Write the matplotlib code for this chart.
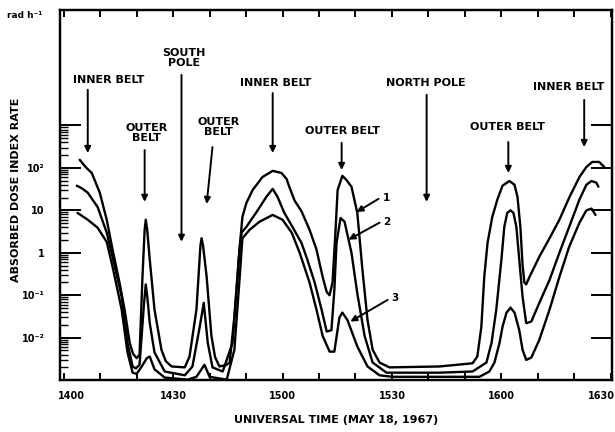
import matplotlib
matplotlib.use("Agg")
import matplotlib.pyplot as plt
import matplotlib.ticker as ticker
import matplotlib.transforms as mtransforms
import numpy as np

# time in minutes after 14:00 UT, dose index rate in rad/h
t1 = [4.4, 6.0, 7.7, 9.9, 11.8, 13.4, 15.3, 16.7, 18.1, 19.0, 20.0, 20.8, 21.6, 22.2, 22.5,
      22.9, 23.6, 24.9, 26.8, 28.0, 29.6, 33.2, 34.5, 36.4, 37.5, 37.8, 38.2, 39.2, 40.5,
      41.5, 42.7, 44.7, 45.5, 46.8, 48.2, 49.0, 50.1, 51.8, 54.5, 57.3, 59.7, 61.1, 61.9,
      63.3, 65.2, 67.4, 69.3, 71.0, 72.1, 72.9, 73.7, 74.5, 75.1, 76.4, 77.5, 78.9, 80.5,
      81.9, 83.3, 84.7, 86.6, 89.3, 103.0, 112.1, 113.4, 114.5, 115.3, 116.2, 117.5, 118.9,
      120.3, 122.2, 123.6, 124.4, 125.2, 125.8, 126.3, 126.8, 127.7, 130.4, 133.2, 135.9,
      138.6, 141.4, 143.3, 144.9, 146.8, 148.2]
dose1 = [155, 105, 76, 26, 6.0, 1.2, 0.20, 0.046, 0.0076, 0.0042, 0.0033, 0.0040, 0.27, 3.5, 6.0,
         3.5, 0.69, 0.046, 0.0052, 0.0028, 0.0021, 0.0020, 0.0036, 0.046, 1.5, 2.2, 1.5, 0.27, 0.011,
         0.0035, 0.0021, 0.0023, 0.0026, 0.031, 1.2, 7.0, 15, 30, 61, 85, 76, 55, 35,
         17, 9.5, 3.5, 1.2, 0.27, 0.12, 0.10, 0.20, 3.0, 30, 65, 52, 36, 8.7,
         0.40, 0.026, 0.0052, 0.0026, 0.0020, 0.0021, 0.0025, 0.0036, 0.018, 0.27, 1.7, 7.0, 18,
         38, 49, 40, 21, 4.1, 0.52, 0.20, 0.18, 0.27, 0.81, 2.2, 6.0,
         20, 61, 105, 138, 138, 105]

t2 = [3.6, 5.0, 6.6, 9.3, 11.8, 13.4, 15.9, 17.5, 18.9, 19.8, 20.8, 22.0, 22.5, 23.0, 23.6,
      24.9, 27.7, 33.2, 35.3, 37.3, 38.4, 39.5, 40.8, 43.6, 46.3, 48.2, 48.8, 50.1, 52.9,
      55.6, 57.3, 58.6, 60.5, 62.7, 65.2, 66.8, 68.8, 70.7, 72.1, 73.4, 74.2, 74.8, 75.9,
      77.0, 78.9, 80.5, 82.5, 84.7, 88.5, 103.0, 112.1, 115.9, 117.3, 118.6, 120.0, 120.8,
      121.6, 122.5, 123.3, 124.1, 124.9, 125.8, 126.8, 128.2, 130.4, 133.2, 135.9, 138.6,
      141.4, 143.3, 144.7, 146.0, 146.6]
dose2 = [38, 33, 26, 12, 3.0, 0.81, 0.092, 0.0076, 0.0021, 0.0019, 0.0023, 0.06, 0.18, 0.08, 0.022,
         0.0045, 0.0016, 0.0013, 0.0021, 0.018, 0.066, 0.0076, 0.0020, 0.0016, 0.0076, 1.2, 3.0, 4.1, 9.2,
         21, 32, 21, 8.7, 4.1, 1.7, 0.69, 0.20, 0.046, 0.014, 0.015, 0.13, 1.7, 6.6,
         5.4, 1.0, 0.11, 0.011, 0.0026, 0.0015, 0.0015, 0.0016, 0.0026, 0.0076, 0.046, 0.69, 4.1,
         8.7, 10, 8.7, 4.1, 0.69, 0.092, 0.022, 0.024, 0.066, 0.23, 1.0, 4.1,
         18, 40, 49, 45, 36]

t3 = [3.8, 6.6, 9.3, 11.8, 13.4, 15.9, 17.5, 18.9, 20.0, 21.4, 22.8, 23.6, 24.9, 27.7, 34.0,
      36.4, 38.6, 40.0, 44.7, 46.8, 48.2, 49.0, 51.0, 53.7, 57.3, 60.0, 62.5, 64.7, 67.4,
      69.3, 71.0, 72.9, 74.2, 75.6, 76.4, 77.8, 80.5, 83.3, 86.6, 90.1, 103.0, 114.0, 116.7,
      118.1, 119.5, 120.3, 121.4, 122.5, 123.6, 124.9, 125.8, 126.8, 128.2, 130.4, 133.2,
      135.9, 138.6, 141.4, 143.3, 144.7, 145.8]
dose3 = [8.7, 6.0, 3.9, 1.8, 0.47, 0.046, 0.0045, 0.0015, 0.0014, 0.0021, 0.0033, 0.0036, 0.0018, 0.00115, 0.00103,
         0.0012, 0.0023, 0.0012, 0.00103, 0.0052, 0.23, 2.2, 3.5, 5.4, 7.8, 6.0, 3.0, 1.0, 0.20,
         0.046, 0.011, 0.0047, 0.0047, 0.030, 0.039, 0.026, 0.0062, 0.0021, 0.0013, 0.0012, 0.0012, 0.0012, 0.0016,
         0.0026, 0.0076, 0.018, 0.039, 0.051, 0.039, 0.015, 0.0052, 0.0030, 0.0034, 0.0089, 0.046,
         0.27, 1.4, 5.1, 10, 11, 7.8]

tick_labels = ['1400', '1430', '1500', '1530', '1600', '1630']
decade_labels = ['', '10\u207b\u00b2', '10\u207b\u00b9', '1', '10', '10\u00b2', '']

BOLD = dict(fontweight='bold', color='black')

fig = plt.figure(figsize=(6.15, 4.32), dpi=100)
ax = fig.add_axes([0.0976, 0.120, 0.8974, 0.857])

for t, d in [(t1, dose1), (t2, dose2), (t3, dose3)]:
    ax.plot(t, d, color='black', lw=1.7, solid_joinstyle='round', solid_capstyle='round')

ax.set_yscale('log')
ax.set_xlim(-1, 150.3)
ax.set_ylim(1e-3, 10 ** 5.72)

# x axis: ticks every 10 min, labels every 30 min
ax.xaxis.set_major_locator(ticker.FixedLocator(np.arange(0, 151, 30)))
ax.xaxis.set_major_formatter(ticker.FixedFormatter(tick_labels))
ax.xaxis.set_minor_locator(ticker.FixedLocator(np.arange(10, 150, 10)))
ax.tick_params(axis='x', which='both', direction='in', top=True, length=5, width=1.4, pad=8,
               labelsize=7)

# left axis: decades with minor ticks up to 10^3
decades = [10.0 ** e for e in range(-3, 4)]
ax.yaxis.set_major_locator(ticker.FixedLocator(decades))
ax.yaxis.set_major_formatter(ticker.FixedFormatter(decade_labels))
ax.yaxis.set_minor_locator(ticker.FixedLocator([k * 10.0 ** e for e in range(-3, 3) for k in range(2, 10)]))
ax.yaxis.set_minor_formatter(ticker.NullFormatter())
ax.tick_params(axis='y', which='major', direction='in', length=15, width=1.4, pad=11, labelsize=7)
ax.tick_params(axis='y', which='minor', direction='in', length=6, width=1.0)

for lab in ax.get_xticklabels() + ax.get_yticklabels():
    lab.set_fontweight('bold')

# nudge the end labels inward
xlabs = ax.xaxis.get_majorticklabels()
xlabs[0].set_transform(xlabs[0].get_transform() + mtransforms.ScaledTranslation(0.08, 0, fig.dpi_scale_trans))
xlabs[-1].set_transform(xlabs[-1].get_transform() + mtransforms.ScaledTranslation(-0.09, 0, fig.dpi_scale_trans))

# right axis: decade ticks only
ax2 = ax.twinx()
ax2.set_yscale('log')
ax2.set_ylim(ax.get_ylim())
ax2.yaxis.set_major_locator(ticker.FixedLocator(decades[1:]))
ax2.yaxis.set_minor_locator(ticker.NullLocator())
ax2.tick_params(axis='y', direction='in', length=15, width=1.4, labelright=False)

for a in (ax, ax2):
    for s in a.spines.values():
        s.set_linewidth(1.6)

ax.set_xlabel('UNIVERSAL TIME (MAY 18, 1967)', fontsize=8, **BOLD)
ax.xaxis.set_label_coords(0.5, -0.095)
ax.set_ylabel('ABSORBED DOSE INDEX RATE', fontsize=8, **BOLD)
ax.yaxis.set_label_coords(-0.07, 0.514)
fig.text(0.012, 0.965, 'rad h\u207b\u00b9', fontsize=6.5, ha='left', va='center', **BOLD)

# region labels: (text, text x, text y, arrow start, arrow tip)
notes = [
    ('INNER BELT', 12.3, 10 ** 4.07, (6.6, 10 ** 3.84), (6.6, 10 ** 2.35)),
    ('OUTER\nBELT', 22.7, 10 ** 2.82, (22.2, 10 ** 2.42), (22.2, 10 ** 1.2)),
    ('SOUTH\nPOLE', 32.9, 10 ** 4.59, (32.3, 10 ** 4.19), (32.3, 10 ** 0.26)),
    ('OUTER\nBELT', 42.5, 10 ** 2.96, (40.8, 10 ** 2.49), (39.2, 10 ** 1.15)),
    ('INNER BELT', 58.1, 10 ** 4.0, (57.3, 10 ** 3.76), (57.3, 10 ** 2.35)),
    ('OUTER BELT', 76.4, 10 ** 2.87, (76.2, 10 ** 2.59), (76.2, 10 ** 1.95)),
    ('NORTH POLE', 99.2, 10 ** 4.0, (99.5, 10 ** 3.72), (99.5, 10 ** 1.2)),
    ('OUTER BELT', 121.6, 10 ** 2.96, (121.9, 10 ** 2.61), (121.9, 10 ** 1.88)),
    ('INNER BELT', 138.4, 10 ** 3.91, (142.7, 10 ** 3.6), (142.7, 10 ** 2.49)),
]
arrow = dict(arrowstyle='-|>', color='black', lw=1.4, mutation_scale=9, shrinkA=0, shrinkB=0)
for txt, x, y, start, tip in notes:
    ax.text(x, y, txt, ha='center', va='center', fontsize=8, linespacing=1.0, **BOLD)
    ax.annotate('', xy=tip, xytext=start, arrowprops=arrow)

# curve numbers
for txt, x, y, start, tip in [('1', 88.5, 10 ** 1.29, (86.3, 10 ** 1.27), (80.3, 10 ** 0.96)),
                              ('2', 88.5, 10 ** 0.73, (86.6, 10 ** 0.71), (78.1, 10 ** 0.31)),
                              ('3', 90.7, 10 ** -1.06, (88.8, 10 ** -1.11), (78.6, 10 ** -1.62))]:
    ax.text(x, y, txt, ha='center', va='center', fontsize=7.5, **BOLD)
    ax.annotate('', xy=tip, xytext=start, arrowprops=arrow)

fig.savefig('out.png', dpi=100)
